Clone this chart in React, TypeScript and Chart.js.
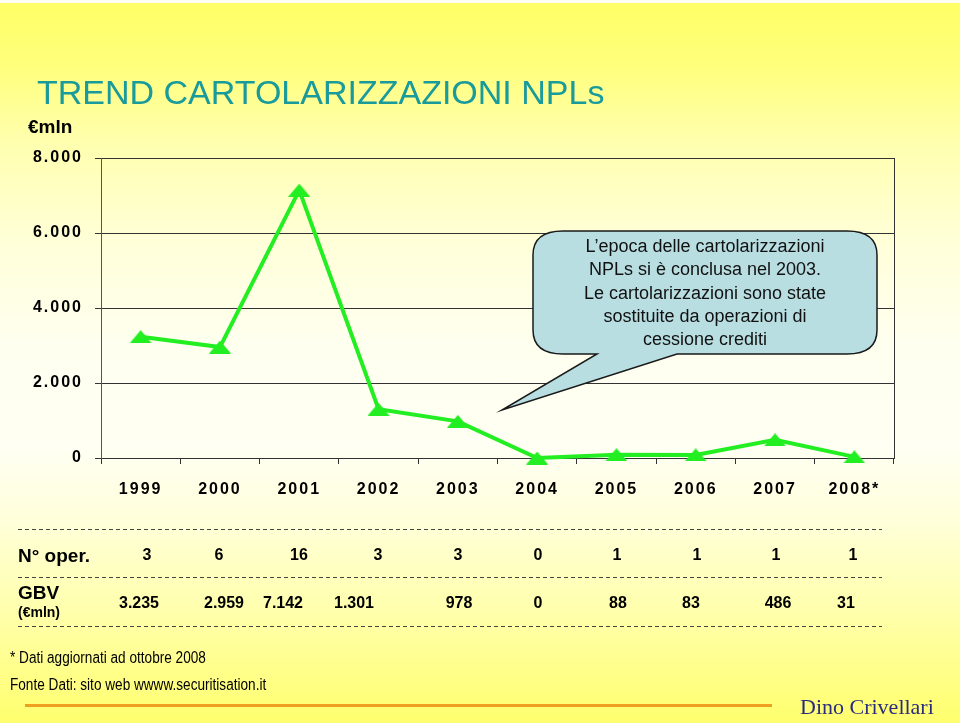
import React, { useEffect, useRef } from 'react';
import { Chart, registerables } from 'chart.js';

Chart.register(...registerables);

// ---------- data ----------
const years = ['1999', '2000', '2001', '2002', '2003', '2004', '2005', '2006', '2007', '2008*'];
const gbvValues = [3235, 2959, 7142, 1301, 978, 0, 88, 83, 486, 31];
const operationCounts = [3, 6, 16, 3, 3, 0, 1, 1, 1, 1];
const yTickValues = [0, 2000, 4000, 6000, 8000];
const calloutLines = [
  'L’epoca delle cartolarizzazioni',
  'NPLs si è conclusa nel 2003.',
  'Le cartolarizzazioni sono state',
  'sostituite da operazioni di',
  'cessione crediti',
];
const titleText = 'TREND CARTOLARIZZAZIONI NPLs';
const unitText = '€mln';
const footnotes = ['* Dati aggiornati ad ottobre 2008', 'Fonte Dati: sito web wwww.securitisation.it'];
const authorText = 'Dino Crivellari';

// ---------- layout (pixel positions of table columns) ----------
const OPER_COL_X = [147, 219, 299, 378, 458, 538, 617, 697, 776, 853];
const GBV_COL_X = [139, 224, 283, 354, 459, 538, 618, 691, 778, 846];

const GREEN = '#22EE22';

function fmtIt(n: number): string {
  return String(n).replace(/\B(?=(\d{3})+(?!\d))/g, '.');
}

function makeTriangle(color: string): HTMLCanvasElement {
  const c = document.createElement('canvas');
  c.width = 22;
  c.height = 13;
  const g = c.getContext('2d')!;
  g.fillStyle = color;
  g.beginPath();
  g.moveTo(11, 0);
  g.lineTo(22, 13);
  g.lineTo(0, 13);
  g.closePath();
  g.fill();
  return c;
}

const decorPlugin = {
  id: 'decor',
  beforeDraw(chart: any) {
    (chart.ctx as any).letterSpacing = '2px';
  },
  afterDraw(chart: any) {
    const ctx = chart.ctx as CanvasRenderingContext2D;
    (ctx as any).letterSpacing = '0px';
    const { top, bottom, right } = chart.chartArea;
    ctx.save();
    // right frame line
    ctx.strokeStyle = '#333';
    ctx.lineWidth = 1;
    ctx.beginPath();
    ctx.moveTo(Math.round(right) + 0.5, top);
    ctx.lineTo(Math.round(right) + 0.5, bottom);
    ctx.stroke();

    // callout balloon
    const L = 533, T = 231, R = 877, B = 354, rx = 30, ry = 24;
    const tailL = 597, tailR = 677, tipX = 502, tipY = 410;
    ctx.beginPath();
    ctx.moveTo(L + rx, T);
    ctx.lineTo(R - rx, T);
    ctx.quadraticCurveTo(R, T, R, T + ry);
    ctx.lineTo(R, B - ry);
    ctx.quadraticCurveTo(R, B, R - rx, B);
    ctx.lineTo(tailR, B);
    ctx.lineTo(tipX, tipY);
    ctx.lineTo(tailL, B);
    ctx.lineTo(L + rx, B);
    ctx.quadraticCurveTo(L, B, L, B - ry);
    ctx.lineTo(L, T + ry);
    ctx.quadraticCurveTo(L, T, L + rx, T);
    ctx.closePath();
    ctx.fillStyle = '#B9DEE2';
    ctx.fill();
    ctx.strokeStyle = '#1a1a1a';
    ctx.lineWidth = 1.5;
    ctx.stroke();
    ctx.restore();
  },
};

type TxtProps = {
  x: number;
  y: number;
  align?: 'left' | 'center';
  size: number;
  weight?: string | number;
  color?: string;
  family?: string;
  narrow?: number;
  children: React.ReactNode;
};

function Txt({ x, y, align = 'left', size, weight = 'normal', color = '#000', family, narrow, children }: TxtProps) {
  const tx = align === 'center' ? '-50%' : '0';
  return (
    <div
      style={{
        position: 'absolute',
        left: x,
        top: y,
        transform: `translate(${tx}, -50%)`,
        fontSize: size,
        lineHeight: 1,
        fontWeight: weight as any,
        color,
        whiteSpace: 'nowrap',
        fontFamily: family || '"Liberation Sans", Arial, sans-serif',
      }}
    >
      <span
        style={{
          display: 'inline-block',
          transform: narrow ? `scaleX(${narrow})` : undefined,
          transformOrigin: align === 'center' ? '50% 50%' : '0 50%',
        }}
      >
        {children}
      </span>
    </div>
  );
}

function Dashed({ y }: { y: number }) {
  return (
    <div
      style={{
        position: 'absolute',
        left: 18,
        top: y,
        width: 864,
        height: 1,
        backgroundImage: 'repeating-linear-gradient(to right, #444 0px, #444 4px, transparent 4px, transparent 7px)',
      }}
    />
  );
}

export default function App() {
  const canvasRef = useRef<HTMLCanvasElement | null>(null);

  useEffect(() => {
    const canvas = canvasRef.current;
    if (!canvas) return;
    const tri = makeTriangle(GREEN);
    const tickFont = { family: '"Liberation Sans", Arial, sans-serif', size: 16, weight: 'bold' as const };
    const chart = new Chart(canvas, {
      type: 'line',
      data: {
        labels: years,
        datasets: [
          {
            data: gbvValues,
            borderColor: GREEN,
            backgroundColor: GREEN,
            borderWidth: 4,
            pointStyle: tri as any,
            pointRadius: 8,
            pointHoverRadius: 8,
            tension: 0,
            fill: false,
            clip: false as any,
          },
        ],
      },
      options: {
        animation: false,
        responsive: false,
        maintainAspectRatio: false,
        events: [],
        layout: { padding: { left: 0, right: 66, top: 158, bottom: 225 } },
        plugins: {
          legend: { display: false },
          tooltip: { enabled: false },
          title: { display: false },
        },
        scales: {
          x: {
            type: 'category',
            offset: true,
            grid: {
              offset: true,
              drawOnChartArea: false,
              drawTicks: true,
              tickLength: 6,
              color: '#333',
              lineWidth: 1,
            },
            border: { display: true, color: '#333', width: 1 },
            ticks: { padding: 16, color: '#000', font: tickFont, maxRotation: 0, autoSkip: false },
            afterFit: (s: any) => {
              s.height = 40;
            },
          },
          y: {
            min: 0,
            max: 8000,
            afterBuildTicks: (s: any) => {
              s.ticks = yTickValues.map((v) => ({ value: v }));
            },
            grid: { color: '#333', lineWidth: 1, tickLength: 6, drawTicks: true },
            border: { display: true, color: '#555', width: 1 },
            ticks: {
              padding: 12,
              color: '#000',
              font: tickFont,
              callback: (v: any) => fmtIt(Number(v)),
            },
            afterFit: (s: any) => {
              s.width = 101;
            },
          },
        },
      },
      plugins: [decorPlugin],
    });
    return () => chart.destroy();
  }, []);

  return (
    <div
      style={{
        position: 'fixed',
        left: 0,
        top: 0,
        width: 960,
        height: 723,
        overflow: 'hidden',
        background:
          'linear-gradient(to bottom, #FFFF66 0%, #FFFF7C 9%, #FFFFB0 20%, #FFFFDA 34%, #FFFFF0 48%, #FFFFF3 62%, #FFFFDA 72%, #FFFFAA 85%, #FFFF6E 100%)',
        fontFamily: '"Liberation Sans", Arial, sans-serif',
      }}
    >
      <div style={{ position: 'absolute', left: 0, top: 0, width: 960, height: 3, background: '#FFFFF4' }} />
      <canvas ref={canvasRef} width={960} height={723} style={{ position: 'absolute', left: 0, top: 0, display: 'block' }} />

      <Txt x={37} y={92} size={34} color="#199A9B">{titleText}</Txt>
      <Txt x={28} y={126} size={19} weight="bold">{unitText}</Txt>

      {/* callout text */}
      <div
        style={{
          position: 'absolute',
          left: 533,
          width: 344,
          top: 235,
          textAlign: 'center',
          fontSize: 18,
          lineHeight: '23.3px',
          color: '#111',
        }}
      >
        {calloutLines.map((l, i) => (
          <div key={i}>{l}</div>
        ))}
      </div>

      {/* table */}
      <Dashed y={529} />
      <Dashed y={577} />
      <Dashed y={626} />
      <Txt x={18} y={555} size={19} weight="bold">N° oper.</Txt>
      <Txt x={18} y={592} size={19} weight="bold">GBV</Txt>
      <Txt x={18} y={612} size={14} weight="bold">(€mln)</Txt>
      {operationCounts.map((v, i) => (
        <Txt key={'o' + i} x={OPER_COL_X[i]} y={555} align="center" size={16} weight="bold">
          {String(v)}
        </Txt>
      ))}
      {gbvValues.map((v, i) => (
        <Txt key={'g' + i} x={GBV_COL_X[i]} y={603} align="center" size={16} weight="bold">
          {fmtIt(v)}
        </Txt>
      ))}

      {/* footer */}
      <Txt x={10} y={658} size={16} narrow={0.85}>{footnotes[0]}</Txt>
      <Txt x={10} y={685} size={16} narrow={0.85}>{footnotes[1]}</Txt>
      <div style={{ position: 'absolute', left: 25, top: 704, width: 747, height: 3, background: '#F0A020' }} />
      <Txt x={800} y={707} size={22} color="#2B2C7C" family='"Liberation Serif", "Times New Roman", serif'>
        {authorText}
      </Txt>
    </div>
  );
}
